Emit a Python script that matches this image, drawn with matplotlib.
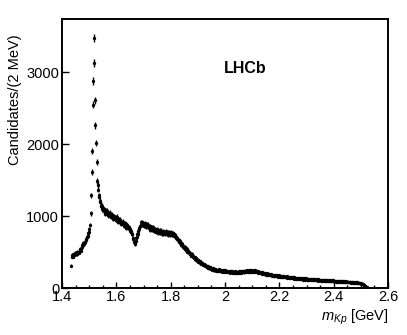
import numpy as np
import matplotlib
matplotlib.use("Agg")
import matplotlib.pyplot as plt
from matplotlib.ticker import MultipleLocator

plt.rcParams["font.family"] = "Liberation Sans"
plt.rcParams["mathtext.fontset"] = "custom"
plt.rcParams["mathtext.rm"] = "Liberation Sans"
plt.rcParams["mathtext.it"] = "Liberation Sans:italic"

# m(Kp) histogram, 2 MeV bins starting at threshold
m_lo = 1.432
bin_w = 0.002
counts = [
    310, 455, 434, 470, 435, 467, 454, 490, 472, 468,
    489, 469, 506, 491, 506, 489, 526, 544, 520, 541,
    565, 600, 592, 626, 607, 639, 639, 674, 675, 704,
    716, 728, 760, 778, 820, 872, 1040, 1288, 1612, 1908,
    2550, 2878, 3478, 3132, 2611, 2262, 2018, 1752, 1487, 1432,
    1368, 1288, 1270, 1210, 1199, 1142, 1146, 1147, 1093, 1106,
    1064, 1093, 1074, 1035, 1077, 1046, 1075, 1030, 1045, 1009,
    1041, 1006, 1049, 1008, 989, 1013, 1021, 966, 993, 973,
    999, 969, 944, 978, 992, 938, 956, 920, 950, 931,
    911, 951, 921, 893, 919, 895, 923, 864, 895, 899,
    865, 892, 841, 868, 875, 834, 834, 845, 798, 816,
    785, 794, 754, 746, 700, 684, 640, 607, 640, 654,
    702, 707, 756, 748, 788, 828, 814, 865, 873, 913,
    879, 914, 884, 900, 858, 888, 903, 862, 874, 848,
    881, 851, 881, 830, 852, 857, 813, 845, 826, 848,
    812, 846, 796, 818, 826, 790, 804, 775, 817, 789,
    804, 762, 792, 801, 767, 776, 799, 757, 778, 749,
    795, 761, 780, 747, 769, 793, 750, 759, 778, 735,
    769, 781, 740, 762, 746, 774, 730, 763, 744, 757,
    721, 736, 736, 700, 708, 676, 696, 668, 674, 645,
    659, 623, 628, 597, 613, 608, 571, 583, 560, 572,
    540, 558, 530, 546, 505, 515, 515, 482, 495, 471,
    482, 451, 473, 446, 431, 450, 421, 428, 430, 397,
    414, 386, 393, 395, 363, 379, 361, 376, 346, 354,
    335, 353, 333, 318, 336, 325, 307, 325, 302, 312,
    309, 286, 304, 282, 272, 288, 280, 265, 285, 264,
    256, 273, 256, 266, 244, 260, 265, 243, 251, 238,
    257, 240, 258, 233, 247, 234, 253, 238, 226, 245,
    232, 248, 225, 237, 247, 220, 237, 222, 238, 225,
    238, 217, 229, 211, 230, 232, 216, 234, 210, 222,
    212, 232, 207, 225, 229, 214, 207, 229, 224, 212,
    235, 217, 232, 214, 230, 241, 219, 231, 216, 240,
    223, 242, 219, 237, 245, 229, 223, 246, 236, 227,
    244, 224, 250, 233, 242, 223, 245, 230, 246, 226,
    236, 241, 219, 233, 212, 232, 217, 226, 205, 219,
    206, 220, 197, 215, 206, 192, 212, 193, 203, 185,
    204, 184, 195, 178, 199, 182, 175, 192, 177, 188,
    170, 184, 187, 168, 173, 185, 163, 177, 165, 179,
    173, 159, 177, 162, 173, 154, 169, 156, 170, 158,
    151, 167, 155, 166, 146, 159, 147, 160, 141, 154,
    158, 143, 154, 137, 148, 154, 135, 146, 135, 148,
    132, 146, 134, 145, 128, 139, 141, 124, 138, 128,
    139, 125, 133, 121, 138, 125, 134, 118, 131, 133,
    118, 130, 121, 133, 117, 126, 131, 116, 124, 112,
    128, 116, 128, 111, 123, 116, 126, 110, 119, 108,
    120, 107, 121, 110, 104, 119, 113, 105, 118, 106,
    104, 116, 101, 113, 115, 101, 109, 98, 111, 103,
    111, 98, 107, 95, 109, 99, 109, 96, 102, 93,
    105, 95, 105, 91, 100, 103, 91, 101, 87, 99,
    89, 101, 90, 99, 85, 96, 97, 85, 95, 86,
    95, 84, 95, 82, 90, 83, 93, 83, 79, 90,
    80, 90, 77, 88, 79, 89, 76, 84, 86, 73,
    83, 73, 83, 72, 79, 68, 78, 69, 74, 65,
    71, 63, 68, 62, 63, 56, 58, 52, 52, 45,
    40, 34, 26, 17, 8,
]

counts = np.array(counts, dtype=float)
centers = m_lo + bin_w * (np.arange(len(counts)) + 0.5)

fig = plt.figure(figsize=(4.07, 3.35), dpi=100)
ax = fig.add_axes([62/407, 1-288/335, 326/407, 269/335])

ax.errorbar(centers, counts, yerr=np.sqrt(counts), fmt='o', ms=2.4,
            color='black', ecolor='black', elinewidth=1.0, capsize=0,
            markeredgewidth=0)

ax.set_xlim(1.4, 2.6)
ax.set_ylim(0, 3740)
ax.xaxis.set_major_locator(MultipleLocator(0.2))
ax.xaxis.set_minor_locator(MultipleLocator(0.05))
ax.yaxis.set_major_locator(MultipleLocator(1000))
ax.set_xticks([1.4, 1.6, 1.8, 2.0, 2.2, 2.4, 2.6])
ax.set_xticklabels(["1.4", "1.6", "1.8", "2", "2.2", "2.4", "2.6"])

ax.tick_params(axis='both', which='both', direction='in', top=False,
               right=False, labelsize=10.5, width=1.0)
ax.tick_params(axis='x', which='major', length=4.5, pad=1.5)
ax.tick_params(axis='x', which='minor', length=2.3)
ax.tick_params(axis='y', which='major', length=5, pad=2)
for s in ax.spines.values():
    s.set_linewidth(1.4)

fig.text(15/407, 1-100/335, "Candidates/(2 MeV)", rotation=90,
         ha='center', va='center', fontsize=10.5)
fig.text(388/407, 1-317/335, r"$m_{Kp}$ [GeV]", ha='right', va='center',
         fontsize=10.5)
ax.text(2.075, 3050, "LHCb", fontsize=11.5, fontweight='bold',
        ha='center', va='center')

fig.savefig("out.png", dpi=100)
